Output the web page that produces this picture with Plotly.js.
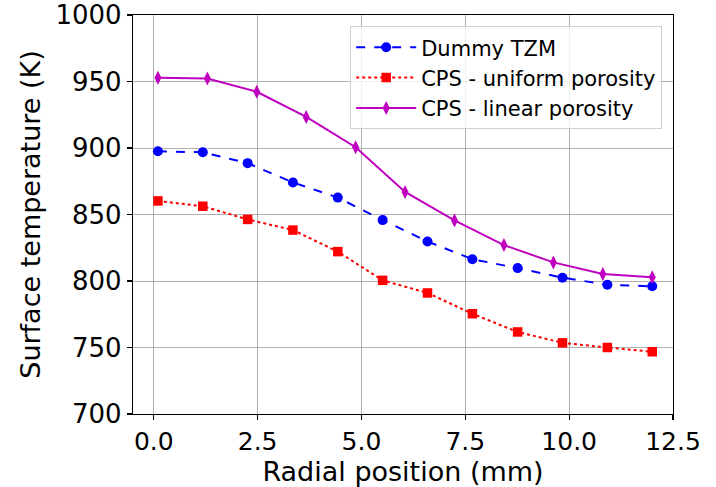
<!DOCTYPE html>
<html>
<head>
<meta charset="utf-8">
<script src="https://cdn.plot.ly/plotly-3.0.1.min.js"></script>
<style>html,body{margin:0;padding:0;background:#fff;}#chart{width:716px;height:487px;}</style>
</head>
<body>
<div id="chart"></div>
<script>
const xTZM = [0.1, 1.18, 2.26, 3.35, 4.43, 5.51, 6.59, 7.67, 8.76, 9.84, 10.92, 12.0];
const yTZM = [897.5, 896.8, 888.6, 874.1, 862.7, 845.8, 829.7, 816.4, 809.7, 802.5, 797.2, 796.0];
const xUniform = [0.1, 1.18, 2.26, 3.35, 4.43, 5.51, 6.59, 7.67, 8.76, 9.84, 10.92, 12.0];
const yUniform = [860.2, 856.2, 846.3, 838.3, 822.1, 800.5, 791.0, 775.4, 761.7, 753.5, 750.0, 746.8];
const xLinear = [0.1, 1.29, 2.48, 3.67, 4.86, 6.05, 7.24, 8.43, 9.62, 10.81, 12.0];
const yLinear = [952.8, 952.2, 942.3, 923.4, 900.6, 867.0, 845.5, 827.0, 814.0, 805.3, 802.8];
const names = ["Dummy TZM", "CPS - uniform porosity", "CPS - linear porosity"];
const xTicks = [0, 2.5, 5, 7.5, 10, 12.5];
const yTicks = [700, 750, 800, 850, 900, 950, 1000];

const font = "DejaVu Sans, sans-serif";
const traces = [
  {x: xTZM, y: yTZM, name: names[0], mode: "lines+markers",
   line: {color: "#0000ff", dash: "dash", width: 2},
   marker: {symbol: "circle", size: 10, color: "#0000ff"}},
  {x: xUniform, y: yUniform, name: names[1], mode: "lines+markers",
   line: {color: "#ff0000", dash: "dot", width: 2},
   marker: {symbol: "square", size: 9.5, color: "#ff0000"}},
  {x: xLinear, y: yLinear, name: names[2], mode: "lines+markers",
   line: {color: "#bf00bf", width: 2},
   marker: {symbol: "diamond-tall", size: 10, color: "#bf00bf"}}
];
const layout = {
  width: 716, height: 487,
  margin: {l: 133, r: 43, t: 15, b: 68},
  paper_bgcolor: "#fff", plot_bgcolor: "#fff",
  font: {family: font, color: "#000", size: 26},
  showlegend: true,
  legend: {x: 0.98, y: 0.972, xanchor: "right", yanchor: "top",
    bgcolor: "rgba(255,255,255,0.8)", bordercolor: "#d0d0d0", borderwidth: 1,
    itemwidth: 60,
    font: {family: font, size: 21, color: "#000"}, tracegroupgap: 0},
  xaxis: {range: [-0.5, 12.5], tickvals: xTicks, ticktext: xTicks.map(v => v.toFixed(1)),
    showline: true, mirror: true, linecolor: "#000", linewidth: 1.2,
    ticks: "outside", ticklen: 5, tickcolor: "#000", tickwidth: 1.2,
    showgrid: true, gridcolor: "#b0b0b0", gridwidth: 1, zeroline: false,
    tickfont: {size: 25}, automargin: true,
    title: {text: "Radial position (mm)", font: {size: 27}, standoff: 0}},
  yaxis: {range: [700, 1000], tickvals: yTicks,
    showline: true, mirror: true, linecolor: "#000", linewidth: 1.2,
    ticks: "outside", ticklen: 5, tickcolor: "#000", tickwidth: 1.2,
    showgrid: true, gridcolor: "#b0b0b0", gridwidth: 1, zeroline: false,
    tickfont: {size: 26},
    title: {text: "Surface temperature (K)", font: {size: 27}, standoff: 7}}
};
Plotly.newPlot("chart", traces, layout, {displayModeBar: false, staticPlot: true});
</script>
</body>
</html>
